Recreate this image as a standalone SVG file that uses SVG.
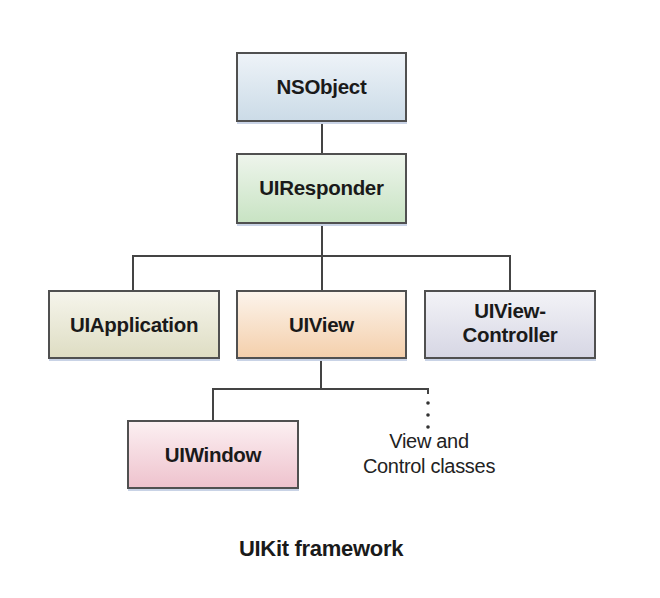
<svg xmlns="http://www.w3.org/2000/svg" width="660" height="598" viewBox="0 0 660 598">
<defs>
<linearGradient id="gBlue" x1="0" y1="0" x2="0" y2="1"><stop offset="0" stop-color="#eef3f8"/><stop offset="1" stop-color="#cbdbe7"/></linearGradient>
<linearGradient id="gGreen" x1="0" y1="0" x2="0" y2="1"><stop offset="0" stop-color="#eef5ec"/><stop offset="1" stop-color="#c8e3c3"/></linearGradient>
<linearGradient id="gOlive" x1="0" y1="0" x2="0" y2="1"><stop offset="0" stop-color="#f6f5ec"/><stop offset="1" stop-color="#deddc3"/></linearGradient>
<linearGradient id="gOrange" x1="0" y1="0" x2="0" y2="1"><stop offset="0" stop-color="#fcf4ec"/><stop offset="1" stop-color="#f4cfab"/></linearGradient>
<linearGradient id="gLav" x1="0" y1="0" x2="0" y2="1"><stop offset="0" stop-color="#f3f3f7"/><stop offset="1" stop-color="#d6d6e4"/></linearGradient>
<linearGradient id="gPink" x1="0" y1="0" x2="0" y2="1"><stop offset="0" stop-color="#fcf0f2"/><stop offset="1" stop-color="#eec2cd"/></linearGradient>
</defs>
<style>
.box{stroke:#505050;stroke-width:2}
.shadow{fill:#c9d3e6}
.lbl{font-family:"Liberation Sans",Arial,sans-serif;font-weight:bold;font-size:20.5px;fill:#1a1a1a;text-anchor:middle;letter-spacing:-0.3px}
.note{font-family:"Liberation Sans",Arial,sans-serif;font-size:20px;fill:#222;text-anchor:middle;letter-spacing:-0.3px}
.conn{fill:none;stroke:#444;stroke-width:2}
</style>
<rect width="660" height="598" fill="#ffffff"/>
<g id="connectors">
<path class="conn" d="M322 121 V154"/>
<path class="conn" d="M322 223 V256"/>
<path class="conn" d="M133 291 V256 H510 V291"/>
<path class="conn" d="M322 256 V291"/>
<path class="conn" d="M321 358 V389"/>
<path class="conn" d="M213 421 V389 H428 V394"/>
<circle cx="428" cy="403" r="1.8" fill="#333"/>
<circle cx="428" cy="415" r="1.8" fill="#333"/>
<circle cx="428" cy="427" r="1.8" fill="#333"/>
</g>
<g id="NSObject">
<rect class="shadow" x="237" y="121" width="170" height="3"/>
<rect class="box" x="237" y="53" width="169" height="68" fill="url(#gBlue)"/>
<text class="lbl" x="321.5" y="94">NSObject</text>
</g>
<g id="UIResponder">
<rect class="shadow" x="237" y="223" width="170" height="3"/>
<rect class="box" x="237" y="154" width="169" height="69" fill="url(#gGreen)"/>
<text class="lbl" x="321.5" y="195">UIResponder</text>
</g>
<g id="UIApplication">
<rect class="shadow" x="49" y="358" width="171" height="3"/>
<rect class="box" x="49" y="291" width="170" height="67" fill="url(#gOlive)"/>
<text class="lbl" x="134" y="332">UIApplication</text>
</g>
<g id="UIView">
<rect class="shadow" x="237" y="358" width="170" height="3"/>
<rect class="box" x="237" y="291" width="169" height="67" fill="url(#gOrange)"/>
<text class="lbl" x="321.5" y="332">UIView</text>
</g>
<g id="UIViewController">
<rect class="shadow" x="425" y="358" width="171" height="3"/>
<rect class="box" x="425" y="291" width="170" height="67" fill="url(#gLav)"/>
<text class="lbl" x="510" y="318">UIView-</text>
<text class="lbl" x="510" y="342">Controller</text>
</g>
<g id="UIWindow">
<rect class="shadow" x="128" y="488" width="171" height="3"/>
<rect class="box" x="128" y="421" width="170" height="67" fill="url(#gPink)"/>
<text class="lbl" x="213" y="462">UIWindow</text>
</g>
<g id="ViewControlClasses">
<text class="note" x="429" y="448">View and</text>
<text class="note" x="429" y="473">Control classes</text>
</g>
<text class="lbl" x="321" y="556" style="font-size:22px">UIKit framework</text>
</svg>
